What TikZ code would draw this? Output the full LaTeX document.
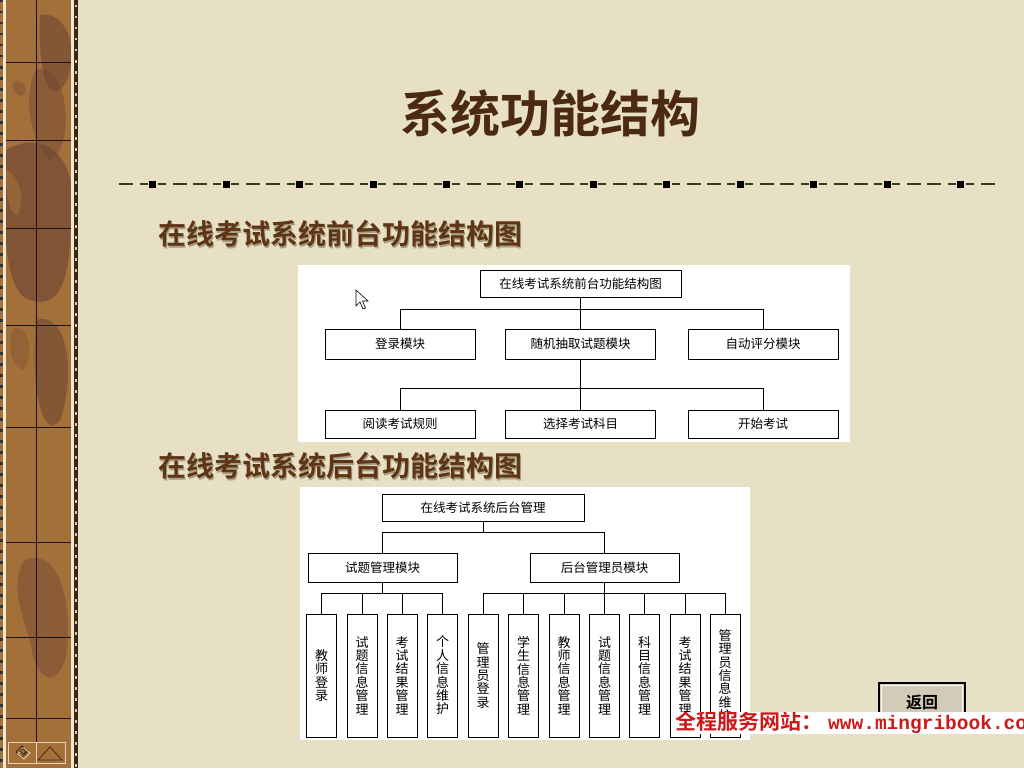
\documentclass[tikz,border=0pt]{standalone}
\usepackage{fontspec}
\newfontfamily\cjk{Noto Sans CJK SC}[BoldFont={Noto Sans CJK SC Bold}]
\setmonofont{Liberation Mono}
\usetikzlibrary{calc}
\definecolor{paper}{HTML}{E8E0C4}
\definecolor{stripbase}{HTML}{A4703A}
\definecolor{stripdark}{HTML}{6E4532}
\definecolor{cream}{HTML}{EFE7CF}
\definecolor{titlebrown}{HTML}{4C2A12}
\definecolor{subbrown}{HTML}{5E3516}
\definecolor{shadowc}{HTML}{A9A084}
\definecolor{dashc}{HTML}{3A3A1C}
\definecolor{wmred}{HTML}{CC1A1A}
\definecolor{btnfill}{HTML}{D2CBB8}
\begin{document}
\begin{tikzpicture}[x=1pt,y=-1pt,
  box/.style={draw=black, line width=0.8pt, fill=white, inner sep=0pt,
    font=\cjk\fontsize{12.5}{13}\selectfont},
  leaf/.style={draw=black, line width=0.8pt, fill=white, inner sep=0pt,
    minimum width=30pt, minimum height=123pt, align=center,
    font=\cjk\fontsize{13}{13.4}\selectfont},
  conn/.style={draw=black, line width=0.8pt},
  subtitle/.style={anchor=west, inner sep=0pt, font=\cjk\bfseries\fontsize{28}{30}\selectfont}]
\useasboundingbox (0,0) rectangle (1024,768);
\fill[paper] (0,0) rectangle (1024,768);

% ---------- left decorative strip ----------
\fill[stripbase] (0,0) rectangle (77,768);
\begin{scope}
  \clip (6,0) rectangle (71,768);
  \fill[stripdark, opacity=.6] (40,15) .. controls (75,10) and (80,70) .. (60,90)
     .. controls (45,100) and (38,60) .. (40,15);
  \fill[stripdark, opacity=.45] (36,70) .. controls (70,60) and (75,150) .. (50,160)
     .. controls (35,150) and (20,100) .. (36,70);
  \fill[stripdark, opacity=.35] (14,82) .. controls (25,78) and (30,92) .. (22,96) .. controls (15,96) and (10,88) .. (14,82);
  \fill[stripdark, opacity=.65] (6,150) .. controls (40,130) and (80,150) .. (71,220)
     .. controls (70,280) and (60,310) .. (30,300) .. controls (10,295) and (0,250) .. (6,150);
  \fill[stripbase, opacity=.6] (6,170) .. controls (20,175) and (25,200) .. (18,215) .. controls (10,215) and (6,200) .. (6,170);
  \fill[stripdark, opacity=.6] (36,320) .. controls (70,310) and (75,380) .. (60,420)
     .. controls (45,440) and (30,400) .. (36,320);
  \fill[stripdark, opacity=.3] (12,330) .. controls (30,320) and (35,360) .. (22,370) .. controls (10,365) and (8,345) .. (12,330);
  \fill[stripdark, opacity=.45] (25,560) .. controls (60,545) and (75,610) .. (65,660)
     .. controls (55,690) and (35,680) .. (30,640) .. controls (20,610) and (10,580) .. (25,560);
\end{scope}
\draw[black!85!brown, line width=1pt] (36,0) -- (36,742);
\foreach \yy in {62,140,228,325,427,542,637,718}
  \draw[black!85!brown, line width=1pt] (6,\yy) -- (71,\yy);
\fill[cream] (3,0) rectangle (6,768);
\fill[cream] (71,0) rectangle (74,768);
\fill[black!70!brown] (74,0) rectangle (78,768);
\draw[black!80, line width=2.5pt, dash pattern=on 2.5pt off 8.5pt] (1.3,0) -- (1.3,768);
\draw[cream!70!brown, line width=2.5pt, dash pattern=on 2.5pt off 8.5pt] (76,5) -- (76,768);
% bottom-left icons
\draw[cream!80!brown, line width=1pt] (8,742) rectangle (65,763);
\draw[cream!80!brown, line width=1pt] (36,742) -- (36,763);
\draw[stripdark!60!black, line width=0.8pt] (16,752) -- (22,746) -- (28,751) -- (22,757) -- cycle;
\draw[cream!80!brown, line width=0.8pt] (18,754) -- (24,748) -- (30,753) -- (24,759) -- cycle;
\draw[stripdark!60!black, line width=0.8pt] (20,751) -- (23,749) -- (26,752) -- (23,754) -- cycle;
\draw[stripdark!60!black, line width=0.8pt] (38,760) -- (50,747) -- (62,760) -- cycle;

% ---------- title ----------
\node[inner sep=0pt, text=titlebrown, font=\cjk\bfseries\fontsize{50}{52}\selectfont] (title) at (550,113) {系统功能结构};

% ---------- dashed separator ----------
\begin{scope}[dashc, line width=1.6pt]
  \draw (119,184) -- (133,184);
  \foreach \k in {0,...,11} {
    \pgfmathsetmacro{\c}{152.7+73.45*\k}
    \draw (\c-13,184) -- (\c-5,184);
    \draw (\c+5,184) -- (\c+13,184);
    \draw (\c+20,184) -- (\c+34,184);
    \ifnum\k<11 \draw (\c+40,184) -- (\c+54,184); \fi
    \fill[black] (\c-3.5,180.5) rectangle (\c+3.5,187.5);
  }
\end{scope}

% ---------- subtitles ----------
\node[subtitle, text=shadowc] at (159.5,235.5) {在线考试系统前台功能结构图};
\node[subtitle, text=subbrown] (sub1) at (158,234) {在线考试系统前台功能结构图};
\node[subtitle, text=shadowc] at (159.5,467.5) {在线考试系统后台功能结构图};
\node[subtitle, text=subbrown] (sub2) at (158,466) {在线考试系统后台功能结构图};

% ---------- front-end diagram ----------
\fill[white] (298,265) rectangle (850,442);
\node[box, minimum width=201pt, minimum height=27pt] (troot) at (580.5,283.5) {在线考试系统前台功能结构图};
\node[box, minimum width=150pt, minimum height=30pt] (tm1) at (400,344) {登录模块};
\node[box, minimum width=150pt, minimum height=30pt] (tm2) at (580.5,344) {随机抽取试题模块};
\node[box, minimum width=150pt, minimum height=30pt] (tm3) at (763,344) {自动评分模块};
\node[box, minimum width=150pt, minimum height=28pt] (tb1) at (400,424) {阅读考试规则};
\node[box, minimum width=150pt, minimum height=28pt] (tb2) at (580.5,424) {选择考试科目};
\node[box, minimum width=150pt, minimum height=28pt] (tb3) at (763,424) {开始考试};
\draw[conn] (troot.south) -- (tm2.north);
\draw[conn] (tm1.north) -- ++(0,-19) -| (tm3.north);
\draw[conn] (tm2.south) -- (tb2.north);
\draw[conn] (tb1.north) -- ++(0,-21) -| (tb3.north);
% mouse cursor
\draw[black, fill=white, line width=0.6pt] (356,290) -- (356,306) -- (360,302) -- (363,309) -- (365.5,308) -- (362.5,301) -- (368,301) -- cycle;

% ---------- back-end diagram ----------
\fill[white] (300,487) rectangle (750,740);
\node[box, minimum width=202pt, minimum height=27pt] (broot) at (483,507.5) {在线考试系统后台管理};
\node[box, minimum width=149pt, minimum height=29pt] (bm1) at (382.5,567.5) {试题管理模块};
\node[box, minimum width=149pt, minimum height=29pt] (bm2) at (604.5,567.5) {后台管理员模块};
\draw[conn] (broot.south) -- ++(0,12);
\draw[conn] (bm1.north) -- ++(0,-20) -| (bm2.north);

\node[leaf] (l1) at (321.5,675.5) {教\\师\\登\\录};
\node[leaf] (l2) at (362,675.5) {试\\题\\信\\息\\管\\理};
\node[leaf] (l3) at (402,675.5) {考\\试\\结\\果\\管\\理};
\node[leaf] (l4) at (442.5,675.5) {个\\人\\信\\息\\维\\护};
\node[leaf] (r1) at (483,675.5) {管\\理\\员\\登\\录};
\node[leaf] (r2) at (523.5,675.5) {学\\生\\信\\息\\管\\理};
\node[leaf] (r3) at (564,675.5) {教\\师\\信\\息\\管\\理};
\node[leaf] (r4) at (604.5,675.5) {试\\题\\信\\息\\管\\理};
\node[leaf] (r5) at (644.5,675.5) {科\\目\\信\\息\\管\\理};
\node[leaf] (r6) at (685,675.5) {考\\试\\结\\果\\管\\理};
\node[leaf] (r7) at (725,675.5) {管\\理\\员\\信\\息\\维\\护};

\draw[conn] (bm1.south) -- ++(0,12);
\draw[conn] (l1.north) -- ++(0,-20) -| (l4.north);
\draw[conn] (l2.north) -- ++(0,-20);
\draw[conn] (l3.north) -- ++(0,-20);
\draw[conn] (bm2.south) -- (r4.north);
\draw[conn] (r1.north) -- ++(0,-20) -| (r7.north);
\foreach \n in {r2,r3,r5,r6} \draw[conn] (\n.north) -- ++(0,-20);

% ---------- return button ----------
\node[draw=black, line width=1.6pt, fill=btnfill, minimum width=86pt, minimum height=38pt,
      inner sep=0pt, font=\cjk\bfseries\fontsize{16}{17}\selectfont, text=black] (btn) at (922,702) {返回};
\draw[white!85!btnfill, line width=1pt] ($(btn.north west)+(3,3)$) rectangle ($(btn.south east)+(-3,-3)$);

% ---------- watermark band ----------
\fill[white] (672,712) rectangle (1024,734);
\begin{scope}
  \clip (672,712) rectangle (1024,734);
  \node[anchor=west, inner sep=0pt, text=wmred] (wm) at (675,723)
    {\cjk\bfseries\fontsize{21}{22}\selectfont 全程服务网站：\hspace{6pt}\ttfamily\bfseries\fontsize{19.5}{22}\selectfont www.mingribook.com};
\end{scope}
\end{tikzpicture}
\end{document}
